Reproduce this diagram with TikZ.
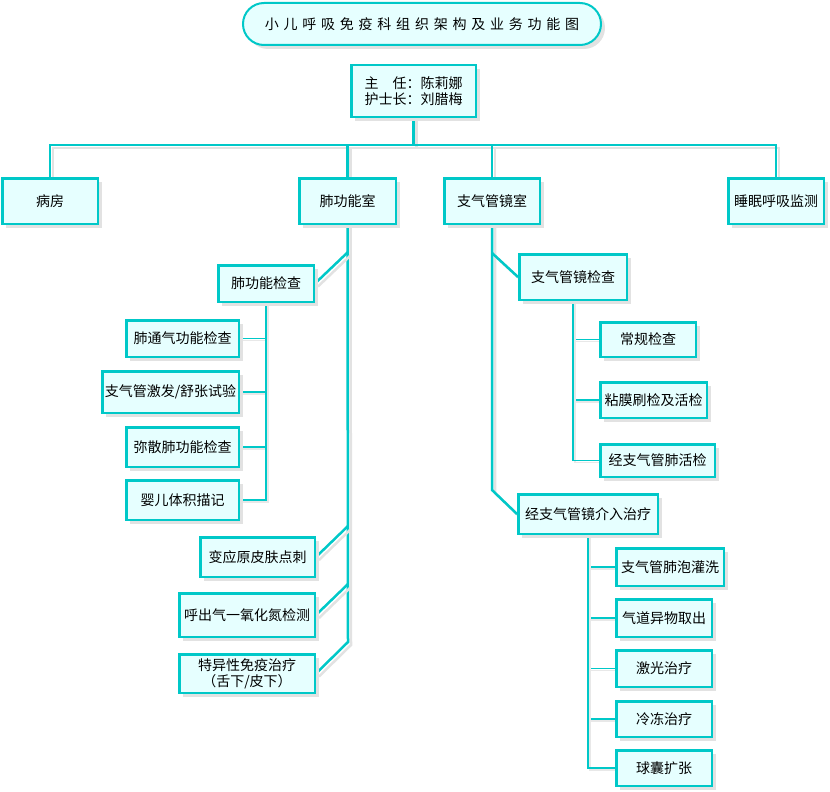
\documentclass[tikz,border=0pt]{standalone}
\usepackage{fontspec}
\setmainfont{Noto Sans CJK SC}
\newfontfamily\titlefont[LetterSpace=34]{Noto Sans CJK SC}
\usepackage{tikz}
\usetikzlibrary{shadows,backgrounds}
\definecolor{tealc}{RGB}{0,200,200}
\definecolor{boxfill}{RGB}{230,255,255}
\definecolor{shadowgray}{RGB}{226,226,226}
\tikzset{
	box/.style={draw=tealc, line width=2.5pt, fill=boxfill, inner sep=0pt, align=center,
		font=\fontsize{14}{16}\selectfont,
		drop shadow={shadow xshift=4pt, shadow yshift=-4pt, fill=shadowgray, opacity=1}},
	link/.style={draw=tealc, line width=2.5pt,
		preaction={draw=shadowgray, line width=2.5pt, transform canvas={xshift=3pt, yshift=-3pt}}},
	sublink/.style={draw=tealc, line width=1.2pt,
		preaction={draw=shadowgray!80, line width=1.2pt, transform canvas={xshift=2pt, yshift=-2pt}}}
}
\def\bx(#1)(#2,#3)(#4,#5)#6{\node[box, minimum width=#4pt-2.5pt, minimum height=#5pt-2.5pt] (#1) at (#2,#3) {#6};}

\begin{document}
\begin{tikzpicture}[x=1pt, y=-1pt]
			%%%%% START %%%%%
			\useasboundingbox (0,0) rectangle (830,792);
			
			\node[box, line width=2pt, rounded corners=21pt, minimum width=358pt, minimum height=42pt,
				font=\titlefont\fontsize{14}{16}\selectfont] (title) at (422,24) {小儿呼吸免疫科组织架构及业务功能图};
			
			\bx(zhuren)(413.5,91)(127,54){主\hspace{1em}任：陈莉娜\\护士长：刘腊梅}
			
			\bx(bingfang)(50,201)(98,48){病房}
			\bx(feigong)(347.5,201)(99,48){肺功能室}
			\bx(zhiqiguan)(492,201)(98,48){支气管镜室}
			\bx(shuimian)(776,201)(98,48){睡眠呼吸监测}
			
			\bx(fgjc)(266,283.5)(98,39){肺功能检查}
			\bx(tongqi)(182.5,338.5)(115,39){肺通气功能检查}
			\bx(jifa)(170.5,392)(139,44){支气管激发/舒张试验}
			\bx(misan)(182.5,447)(115,42){弥散肺功能检查}
			\bx(yinger)(182.5,500)(115,42){婴儿体积描记}
			\bx(bianying)(257.5,557)(117,42){变应原皮肤点刺}
			\bx(huchu)(247,615)(138,46){呼出气一氧化氮检测}
			\bx(teyi)(247,673.5)(138,41){特异性免疫治疗\\（舌下/皮下）}
			
			\bx(jingjc)(573,277)(110,48){支气管镜检查}
			\bx(changgui)(648,339.5)(98,37){常规检查}
			\bx(nianmo)(653.5,400)(109,38){粘膜刷检及活检}
			\bx(huojian)(657.5,460.5)(117,35){经支气管肺活检}
			\bx(jieru)(588,514)(142,42){经支气管镜介入治疗}
			\bx(guanxi)(670,567)(110,40){支气管肺泡灌洗}
			\bx(yiwu)(664,618)(98,40){气道异物取出}
			\bx(jiguang)(664,668.5)(98,39){激光治疗}
			\bx(lengdong)(664,719)(98,38){冷冻治疗}
			\bx(qiunang)(664,768)(98,38){球囊扩张}
			
			\coordinate (bus) at (413.5,145);
			\coordinate (fg1) at (348,252);
			\coordinate (fg2) at (348,526);
			\coordinate (fg3) at (348,584);
			\coordinate (fg4) at (348,642);
			\coordinate (zq1) at (492,253);
			\coordinate (zq2) at (492,490);
			
			\begin{scope}[on background layer]
			\draw[link] (zhuren.south) -- (bus);
			\draw[link] (bingfang.north) |- (bus) -| (shuimian.north);
			\draw[link] (feigong.north) -- (feigong.north |- bus);
			\draw[link] (zhiqiguan.north) -- (zhiqiguan.north |- bus);
			
			\draw[link] (feigong.south) -- (fg4) -- (teyi.east);
			\draw[link] (fg1) -- (fgjc.east);
			\draw[link] (fg2) -- (bianying.east);
			\draw[link] (fg3) -- (huchu.east);
			\foreach \n in {tongqi,jifa,misan,yinger}
				\draw[sublink] (fgjc.south) |- (\n.east);
			
			\draw[link] (zhiqiguan.south) -- (zq2) -- (jieru.west);
			\draw[link] (zq1) -- (jingjc.west);
			\foreach \n in {changgui,nianmo,huojian}
				\draw[sublink] (jingjc.south) |- (\n.west);
			\foreach \n in {guanxi,yiwu,jiguang,lengdong,qiunang}
				\draw[sublink] (jieru.south) |- (\n.west);
			\end{scope}
			%%%%% END %%%%%
\end{tikzpicture}
\end{document}
